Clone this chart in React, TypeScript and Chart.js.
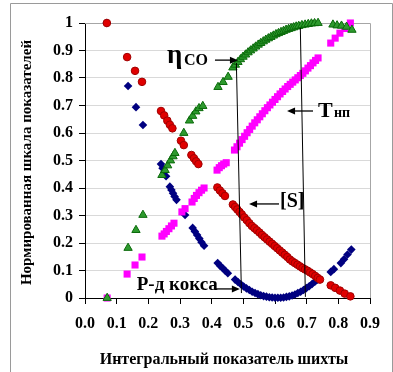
import React, { useEffect, useRef } from "react";
import { Chart, registerables } from "chart.js";

Chart.register(...registerables);

// ---- data ----
const sX = [0.069,0.133,0.158,0.180,0.240,0.250,0.260,0.268,0.276,0.303,0.312,0.336,0.344,0.351,0.358,0.418,0.426,0.434,0.442,0.467,0.474,0.481,0.488,0.495,0.503,0.511,0.519,0.527,0.535,0.543,0.551,0.559,0.567,0.575,0.583,0.591,0.599,0.607,0.615,0.623,0.631,0.639,0.647,0.655,0.663,0.671,0.679,0.687,0.695,0.703,0.711,0.719,0.727,0.735,0.742,0.776,0.790,0.805,0.820,0.838];
const sY = [1.0,0.876,0.826,0.786,0.680,0.664,0.645,0.630,0.617,0.572,0.556,0.520,0.508,0.497,0.487,0.402,0.391,0.381,0.371,0.340,0.331,0.322,0.313,0.304,0.293,0.283,0.272,0.262,0.254,0.246,0.238,0.229,0.221,0.213,0.205,0.197,0.189,0.181,0.173,0.165,0.157,0.149,0.140,0.133,0.127,0.121,0.115,0.109,0.104,0.099,0.093,0.087,0.080,0.073,0.067,0.046,0.037,0.027,0.016,0.006];

const cokeX = [0.069,0.136,0.161,0.183,0.240,0.245,0.250,0.256,0.268,0.273,0.278,0.283,0.289,0.316,0.340,0.347,0.354,0.361,0.368,0.376,0.419,0.427,0.435,0.443,0.451,0.474,0.483,0.492,0.501,0.510,0.519,0.528,0.537,0.546,0.555,0.564,0.573,0.582,0.591,0.600,0.609,0.618,0.627,0.636,0.645,0.654,0.663,0.672,0.681,0.690,0.699,0.708,0.717,0.726,0.735,0.776,0.786,0.808,0.818,0.829,0.841];
const cokeY = [1.0,0.771,0.694,0.629,0.487,0.472,0.457,0.443,0.405,0.393,0.381,0.369,0.357,0.302,0.255,0.242,0.229,0.216,0.203,0.190,0.127,0.117,0.108,0.099,0.090,0.067,0.058,0.050,0.042,0.035,0.029,0.023,0.018,0.014,0.010,0.007,0.005,0.003,0.002,0.001,0.001,0.001,0.002,0.004,0.006,0.009,0.013,0.018,0.023,0.029,0.036,0.043,0.051,0.059,0.067,0.095,0.105,0.127,0.141,0.158,0.176];

const etaX = [0.070,0.136,0.161,0.183,0.243,0.253,0.261,0.270,0.278,0.284,0.312,0.330,0.340,0.350,0.360,0.372,0.420,0.436,0.452,0.467,0.475,0.483,0.491,0.499,0.507,0.515,0.523,0.531,0.539,0.547,0.555,0.563,0.571,0.579,0.587,0.595,0.603,0.611,0.619,0.627,0.635,0.643,0.651,0.659,0.667,0.675,0.685,0.695,0.705,0.715,0.725,0.736,0.783,0.796,0.810,0.826,0.843];
const etaY = [0.0,0.182,0.247,0.302,0.447,0.465,0.482,0.500,0.515,0.527,0.600,0.645,0.662,0.678,0.690,0.698,0.767,0.785,0.804,0.838,0.848,0.858,0.868,0.877,0.885,0.893,0.900,0.907,0.914,0.921,0.927,0.933,0.939,0.944,0.949,0.954,0.959,0.963,0.967,0.971,0.975,0.978,0.981,0.984,0.987,0.989,0.992,0.994,0.996,0.998,0.999,1.0,0.994,0.991,0.990,0.986,0.975];

const tX = [0.070,0.133,0.158,0.180,0.243,0.250,0.257,0.265,0.273,0.281,0.306,0.316,0.338,0.345,0.352,0.360,0.368,0.376,0.417,0.424,0.431,0.438,0.446,0.472,0.480,0.488,0.496,0.504,0.512,0.520,0.528,0.536,0.544,0.552,0.560,0.568,0.576,0.584,0.592,0.600,0.608,0.616,0.624,0.632,0.640,0.648,0.656,0.664,0.672,0.680,0.688,0.696,0.704,0.712,0.720,0.728,0.736,0.776,0.790,0.805,0.820,0.838];
const tY = [0.0,0.087,0.120,0.149,0.225,0.233,0.242,0.252,0.262,0.272,0.313,0.325,0.349,0.362,0.373,0.383,0.392,0.400,0.465,0.474,0.481,0.487,0.492,0.538,0.550,0.563,0.576,0.588,0.601,0.613,0.625,0.637,0.648,0.659,0.670,0.681,0.692,0.702,0.712,0.722,0.732,0.742,0.751,0.760,0.769,0.777,0.785,0.793,0.801,0.809,0.817,0.826,0.836,0.845,0.855,0.864,0.873,0.927,0.945,0.963,0.980,1.0];

// guide lines (data coordinates)
const guide1X = [0.478, 0.494];
const guide1Y = [0.855, 0.018];
const guide2X = [0.680, 0.696];
const guide2Y = [0.982, 0.004];

const xTickLabels = ["0.0","0.1","0.2","0.3","0.4","0.5","0.6","0.7","0.8","0.9"];
const yTickLabels = ["0","0.1","0.2","0.3","0.4","0.5","0.6","0.7","0.8","0.9","1"];

const xTitle = "Интегральный показатель шихты";
const yTitle = "Нормированная шкала показателей";

// annotation anchors (arrow tips, data coordinates)
const etaTip = [0.483, 0.865];
const tTip = [0.638, 0.680];
const sTip = [0.518, 0.342];
const cokeTip = [0.489, 0.033];

const pts = (xs: number[], ys: number[]) => xs.map((x, i) => ({ x, y: ys[i] }));

const FONT = "'Liberation Serif', 'Times New Roman', serif";

function arrow(ctx: CanvasRenderingContext2D, x1: number, y1: number, x2: number, y2: number) {
  ctx.save();
  ctx.strokeStyle = "#000";
  ctx.fillStyle = "#000";
  ctx.lineWidth = 1.3;
  const dir = Math.sign(x2 - x1);
  ctx.beginPath();
  ctx.moveTo(x1, y1);
  ctx.lineTo(x2 - dir * 5, y2);
  ctx.stroke();
  ctx.beginPath();
  ctx.moveTo(x2, y2);
  ctx.lineTo(x2 - dir * 8, y2 - 3.5);
  ctx.lineTo(x2 - dir * 8, y2 + 3.5);
  ctx.closePath();
  ctx.fill();
  ctx.restore();
}

const decorPlugin = {
  id: "decor",
  afterDraw(chart: any) {
    const ctx: CanvasRenderingContext2D = chart.ctx;
    const xs = chart.scales.x;
    const ys = chart.scales.y;
    const ca = chart.chartArea;
    const px = (v: number) => xs.getPixelForValue(v);
    const py = (v: number) => ys.getPixelForValue(v);
    ctx.save();
    // outer frame
    ctx.strokeStyle = "#9a9a9a";
    ctx.lineWidth = 1;
    ctx.beginPath();
    ctx.moveTo(10.5, 372);
    ctx.lineTo(10.5, 3.5);
    ctx.lineTo(392.5, 3.5);
    ctx.lineTo(392.5, 372);
    ctx.stroke();

    ctx.fillStyle = "#000";
    // axis titles
    ctx.font = `bold 15px ${FONT}`;
    ctx.textAlign = "center";
    ctx.textBaseline = "middle";
    ctx.save();
    ctx.translate(27, (ca.top + ca.bottom) / 2 + 2);
    ctx.rotate(-Math.PI / 2);
    ctx.fillText(yTitle, 0, 0);
    ctx.restore();
    ctx.font = `bold 16px ${FONT}`;
    ctx.fillText(xTitle, 224, 360);

    ctx.textAlign = "left";
    ctx.textBaseline = "alphabetic";
    // eta CO
    let tx = px(etaTip[0]);
    let ty = py(etaTip[1]);
    arrow(ctx, tx - 23, ty, tx, ty);
    ctx.font = `bold 27px ${FONT}`;
    ctx.fillText("η", tx - 71, ty + 3);
    ctx.font = `bold 16px ${FONT}`;
    ctx.fillText("CO", tx - 54, ty + 5);
    // T np
    tx = px(tTip[0]);
    ty = py(tTip[1]);
    arrow(ctx, tx + 26, ty, tx, ty);
    ctx.font = `bold 22px ${FONT}`;
    ctx.fillText("T", tx + 31, ty + 6);
    ctx.font = `bold 14px ${FONT}`;
    ctx.fillText("нп", tx + 47, ty + 6);
    // [S]
    tx = px(sTip[0]);
    ty = py(sTip[1]);
    arrow(ctx, tx + 30, ty, tx, ty);
    ctx.font = `bold 20px ${FONT}`;
    ctx.fillText("[S]", tx + 31, ty + 3);
    // coke
    tx = px(cokeTip[0]);
    ty = py(cokeTip[1]);
    arrow(ctx, tx - 25, ty, tx, ty);
    ctx.font = `bold 19px ${FONT}`;
    ctx.textAlign = "right";
    ctx.fillText("Р-д кокса", tx - 22, ty + 1);
    ctx.restore();
  },
  beforeDatasetsDraw(chart: any) {
    const ctx: CanvasRenderingContext2D = chart.ctx;
    const ca = chart.chartArea;
    ctx.save();
    ctx.strokeStyle = "#a6a6a6";
    ctx.lineWidth = 1;
    ctx.beginPath();
    ctx.moveTo(ca.left, Math.round(ca.top) + 0.5);
    ctx.lineTo(Math.round(ca.right) + 0.5, Math.round(ca.top) + 0.5);
    ctx.lineTo(Math.round(ca.right) + 0.5, ca.bottom);
    ctx.stroke();
    ctx.restore();
  },
};

export default function App() {
  const ref = useRef<HTMLCanvasElement | null>(null);
  useEffect(() => {
    if (!ref.current) return;
    const chart = new Chart(ref.current, {
      type: "scatter",
      data: {
        datasets: [
          {
            label: "g1",
            data: pts(guide1X, guide1Y),
            showLine: true,
            borderColor: "#000",
            borderWidth: 1,
            pointRadius: 0,
            clip: false,
          },
          {
            label: "g2",
            data: pts(guide2X, guide2Y),
            showLine: true,
            borderColor: "#000",
            borderWidth: 1,
            pointRadius: 0,
            clip: false,
          },
          {
            label: "[S]",
            data: pts(sX, sY),
            pointStyle: "circle",
            pointRadius: 3.8,
            backgroundColor: "#e00000",
            borderColor: "#a00000",
            borderWidth: 1,
            clip: false,
          },
          {
            label: "ηCO",
            data: pts(etaX, etaY),
            pointStyle: "triangle",
            pointRadius: 4.8,
            backgroundColor: "#2e9a2e",
            borderColor: "#0a6a0a",
            borderWidth: 1,
            clip: false,
          },
          {
            label: "Tнп",
            data: pts(tX, tY),
            pointStyle: "rect",
            pointRadius: 5,
            backgroundColor: "#ff00ff",
            borderColor: "#ff00ff",
            borderWidth: 0,
            clip: false,
          },
          {
            label: "Р-д кокса",
            data: pts(cokeX, cokeY),
            pointStyle: "rectRot",
            pointRadius: 4.3,
            backgroundColor: "#000080",
            borderColor: "#000080",
            borderWidth: 0,
            clip: false,
          },
        ],
      },
      options: {
        responsive: false,
        animation: false,
        layout: { padding: { left: 0, top: 23, right: 23, bottom: 0 } },
        plugins: { legend: { display: false }, tooltip: { enabled: false } },
        scales: {
          x: {
            type: "linear",
            min: 0,
            max: 0.9,
            afterFit: (s: any) => { s.height = 74; },
            afterBuildTicks: (s: any) => {
              s.ticks = xTickLabels.map((_, i) => ({ value: i / 10 }));
            },
            ticks: {
              color: "#000",
              font: { family: FONT, size: 16, weight: "bold" },
              padding: 10,
              maxRotation: 0,
              callback: (_v: any, i: number) => xTickLabels[i],
            },
            grid: { drawOnChartArea: false, drawTicks: true, tickLength: 6, tickColor: "#000" },
            border: { color: "#000", width: 1 },
          },
          y: {
            type: "linear",
            min: 0,
            max: 1,
            afterFit: (s: any) => { s.width = 85; },
            afterBuildTicks: (s: any) => {
              s.ticks = yTickLabels.map((_, i) => ({ value: i / 10 }));
            },
            ticks: {
              color: "#000",
              font: { family: FONT, size: 16, weight: "bold" },
              padding: 6,
              callback: (_v: any, i: number) => yTickLabels[i],
            },
            grid: { color: "#d9d9d9", tickLength: 6, tickColor: "#000" },
            border: { color: "#000", width: 1 },
          },
        },
      },
      plugins: [decorPlugin],
    } as any);
    return () => chart.destroy();
  }, []);
  return (
    <div style={{ position: "absolute", left: 0, top: 0, width: 393, height: 372, background: "#fff" }}>
      <canvas ref={ref} width={393} height={372} style={{ display: "block" }} />
    </div>
  );
}
